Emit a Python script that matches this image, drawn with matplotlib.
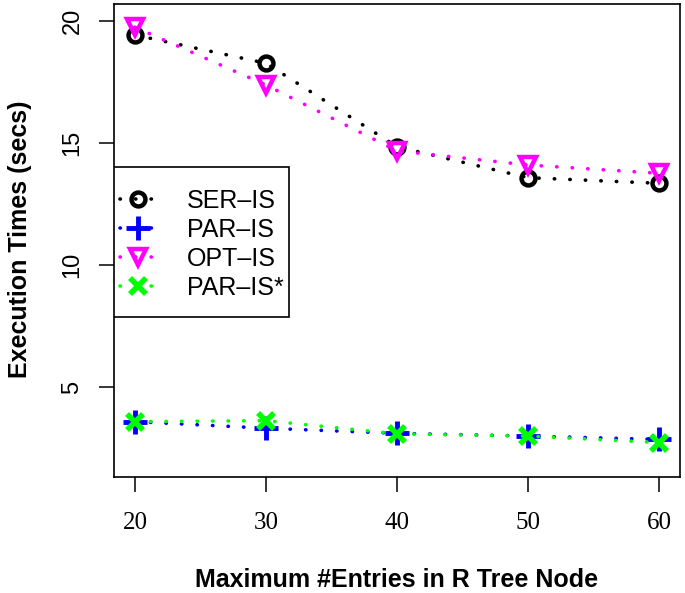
import matplotlib
matplotlib.use("Agg")
import matplotlib.pyplot as plt
from matplotlib.patches import Rectangle

# values
entries = [20, 30, 40, 50, 60]
ser_is = [19.43, 18.27, 14.85, 13.58, 13.35]
par_is = [3.58, 3.31, 3.10, 2.99, 2.85]
opt_is = [19.75, 17.38, 14.68, 14.10, 13.76]
par_is_star = [3.58, 3.62, 3.08, 2.99, 2.72]
labels = ["SER\u2013IS", "PAR\u2013IS", "OPT\u2013IS", "PAR\u2013IS*"]
xticks = [20, 30, 40, 50, 60]
yticks = [5, 10, 15, 20]

sans = "Liberation Sans"
serif = "Liberation Serif"

fig = plt.figure(figsize=(6.85, 5.93), dpi=100)
ax = fig.add_axes([114 / 685, 1 - 477 / 593, 566 / 685, 473 / 593])

dots = (0, (0.1, 4.2))
common = dict(lw=2.6, ls=dots, dash_capstyle="round")
ax.plot(entries, ser_is, color="black", marker="o", ms=10, mfc="none",
        mew=3.2, label=labels[0], **common)
ax.plot(entries, par_is, color="blue", marker="+", ms=17, mew=3.5,
        label=labels[1], **common)
ax.plot(entries, opt_is, color="magenta", marker="v", ms=12, mfc="none",
        mew=3.2, label=labels[2], **common)
ax.plot(entries, par_is_star, color="lime", marker="x", ms=12, mew=4,
        label=labels[3], **common)

ax.set_xlim(18.4, 61.6)
ax.set_ylim(1.31, 20.70)
ax.set_xticks(xticks)
ax.set_yticks(yticks)
ax.set_xticklabels([str(v) for v in xticks], fontfamily=serif, fontsize=18)
ax.set_yticklabels([str(v) for v in yticks], fontfamily=sans, fontsize=17,
                   rotation=90, va="center")
ax.tick_params(axis="both", direction="out", length=11, width=1.1)
ax.tick_params(axis="x", pad=14)
ax.tick_params(axis="y", pad=11)
for s in ax.spines.values():
    s.set_linewidth(1.2)

# legend box drawn by hand (R style: wide vertical padding, tight on the left)
ax.add_patch(Rectangle((0, (477 - 317) / 473), (289 - 114) / 566, 150 / 473,
                       transform=ax.transAxes, facecolor="white",
                       edgecolor="black", lw=1.2, zorder=4))
leg = ax.legend(loc="upper left", bbox_to_anchor=(0.01, (477 - 189) / 473),
                borderaxespad=0, borderpad=0, frameon=False,
                prop={"family": sans, "size": 18}, handlelength=1.5,
                handletextpad=1.2, labelspacing=0.2)
leg.set_zorder(5)

fig.text(20 / 685, 1 - 239 / 593, "Execution Times (secs)", rotation=90,
         ha="center", va="center", fontfamily=sans, fontweight="bold",
         fontsize=18)
fig.text(397 / 685, 1 - 580 / 593, "Maximum #Entries in R Tree Node",
         ha="center", va="center", fontfamily=sans, fontweight="bold",
         fontsize=18)

fig.savefig("out.png", dpi=100)
